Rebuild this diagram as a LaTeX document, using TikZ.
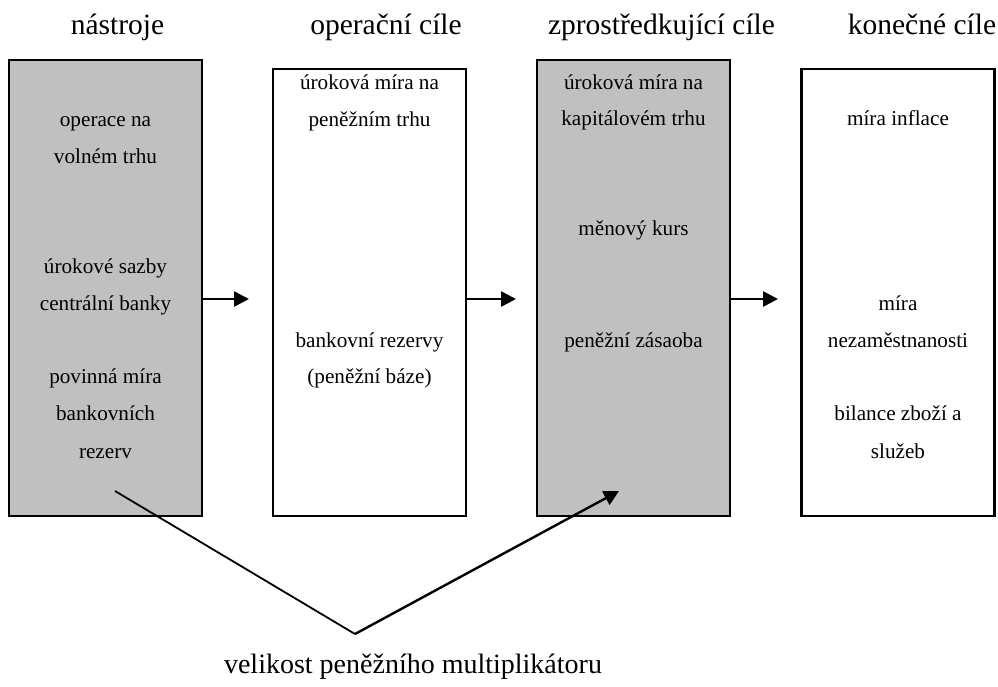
\documentclass[tikz,border=0pt]{standalone}
\usepackage{fontspec}
\setmainfont{Liberation Serif}
\usetikzlibrary{arrows.meta}
\definecolor{boxgray}{HTML}{C0C0C0}
\begin{document}
\begin{tikzpicture}[x=1pt,y=-1pt,
  colbox/.style={draw=black,line width=2.4pt,minimum width=193pt,inner sep=0pt,outer sep=0pt},
  graybox/.style={colbox,fill=boxgray},
  whitebox/.style={colbox,fill=white},
  ttl/.style={font=\fontsize{29.5}{33}\selectfont,anchor=base,inner sep=0pt},
  btm/.style={font=\fontsize{28}{32}\selectfont,anchor=base,inner sep=0pt},
  txt/.style={font=\fontsize{21.2}{25}\selectfont,anchor=base,inner sep=0pt},
  arr/.style={line width=2.6pt,-{Triangle[length=15pt,width=15pt]}},
]
\useasboundingbox (0,0) rectangle (998,686);
% titles
\node[ttl] (h1) at (117.5,34) {nástroje};
\node[ttl] (h2) at (386,34) {operační cíle};
\node[ttl] (h3) at (661.5,34) {zprostředkující cíle};
\node[ttl] (h4) at (922,34) {konečné cíle};
% boxes
\node[graybox,minimum height=456pt] (b1) at (105.5,288) {};
\node[whitebox,minimum height=447pt] (b2) at (369.5,292.5) {};
\node[graybox,minimum height=456pt] (b3) at (633.5,288) {};
\node[whitebox,minimum height=447pt] (b4) at (898,292.5) {};
% box 1 texts
\node[txt] (t11) at (105.5,126.5) {operace na};
\node[txt] (t12) at (105.5,163) {volném trhu};
\node[txt] (t13) at (105.5,273) {úrokové sazby};
\node[txt] (t14) at (105.5,310) {centrální banky};
\node[txt] (t15) at (105.5,383) {povinná míra};
\node[txt] (t16) at (105.5,420) {bankovních};
\node[txt] (t17) at (105.5,458) {rezerv};
% box 2 texts
\node[txt] (t21) at (369.5,89) {úroková míra na};
\node[txt] (t22) at (369.5,126.5) {peněžním trhu};
\node[txt] (t23) at (369.5,347) {bankovní rezervy};
\node[txt] (t24) at (369.5,383) {(peněžní báze)};
% box 3 texts
\node[txt] (t31) at (633.5,89) {úroková míra na};
\node[txt] (t32) at (633.5,125) {kapitálovém trhu};
\node[txt] (t33) at (633.5,235) {měnový kurs};
\node[txt] (t34) at (633.5,347) {peněžní zásaoba};
% box 4 texts
\node[txt] (t41) at (898,125) {míra inflace};
\node[txt] (t42) at (898,310) {míra};
\node[txt] (t43) at (898,347) {nezaměstnanosti};
\node[txt] (t44) at (898,420) {bilance zboží a};
\node[txt] (t45) at (898,458) {služeb};
% horizontal arrows
\coordinate (a1) at (249,299);
\coordinate (a2) at (516,299);
\coordinate (a3) at (778,299);
\draw[arr] (b1.east |- a1) -- (a1);
\draw[arr] (b2.east |- a2) -- (a2);
\draw[arr] (b3.east |- a3) -- (a3);
% multiplier
\coordinate (s) at (115,491);
\coordinate (v) at (355,634);
\coordinate (e) at (619,491);
\draw[line width=1.8pt] (s) -- (v);
\draw[line width=2.4pt,-{Triangle[length=15pt,width=15pt]}] (v) -- (e);
\node[btm] (bot) at (413,673) {velikost peněžního multiplikátoru};
\end{tikzpicture}
\end{document}
